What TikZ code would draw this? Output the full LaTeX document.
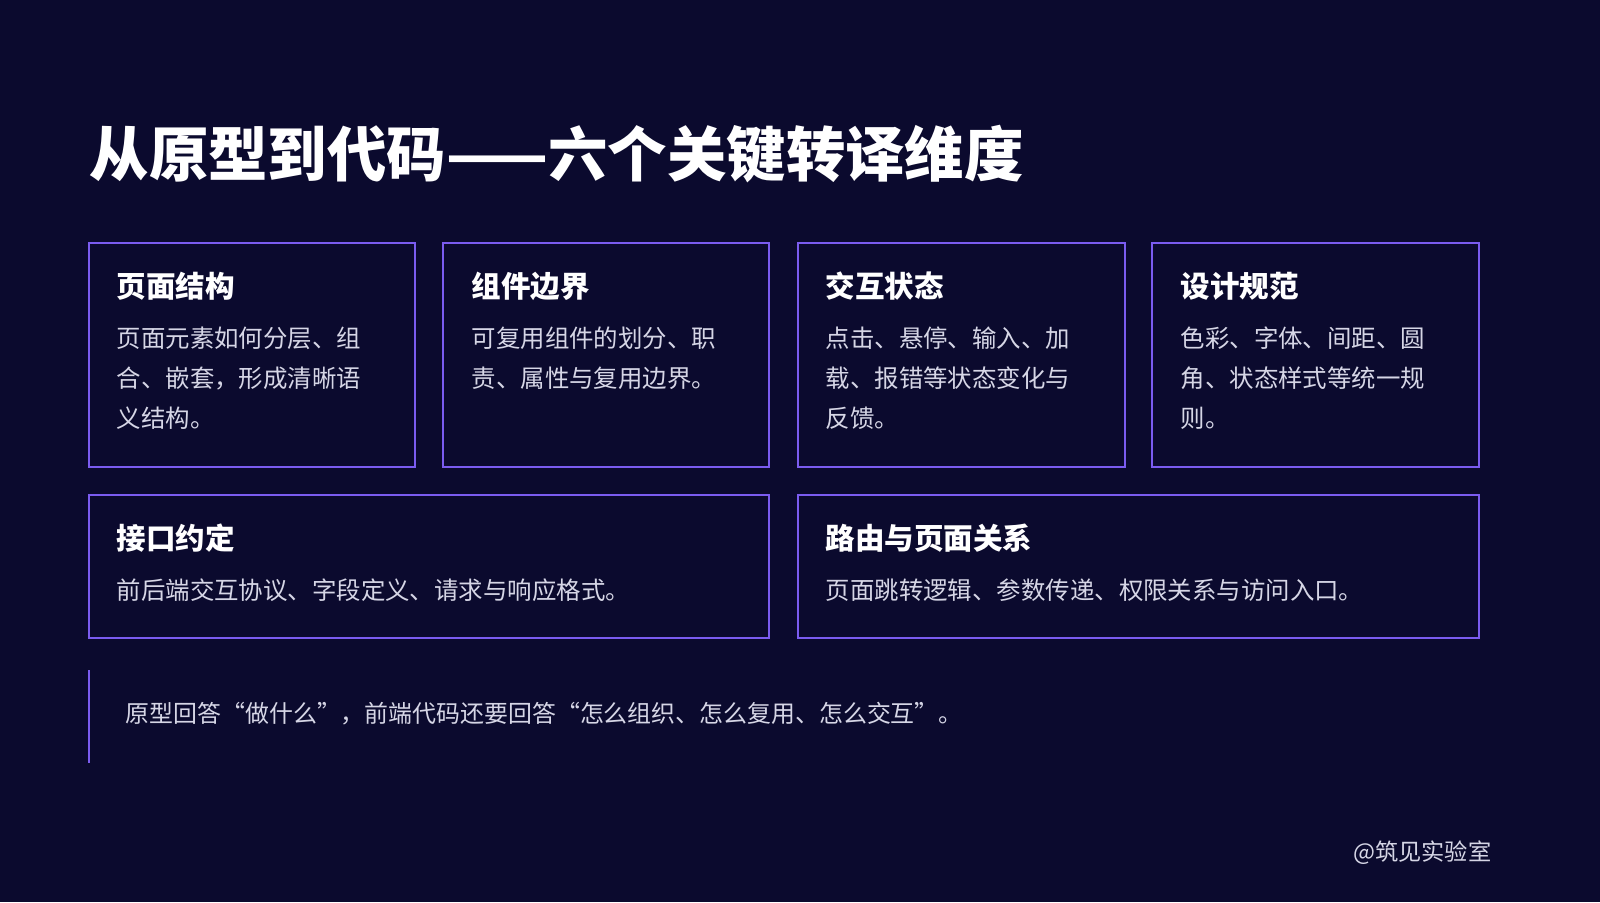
\documentclass[tikz,border=0pt]{standalone}
\usepackage{fontspec}
\setmainfont{Noto Sans CJK SC}
\usetikzlibrary{positioning}
\definecolor{bgnavy}{HTML}{0B0A2E}
\definecolor{edgeviolet}{HTML}{7B5CF0}
\definecolor{bodygrey}{HTML}{D6D6E6}
\begin{document}
\begin{tikzpicture}[x=0.01cm, y=-0.01cm,
    card/.style={draw=edgeviolet, line width=0.75pt},
    cardhead/.style={anchor=base west, text=white, font=\fontsize{8.4}{10}\selectfont\bfseries, inner sep=0pt},
    cardbody/.style={anchor=north west, text=bodygrey, font=\fontsize{6.95}{11.4}\selectfont, align=left, inner sep=0pt}]

    % Background
    \fill[bgnavy] (0,0) rectangle (1600,902);

    % Title
    \node[anchor=base west, text=white, font=\fontsize{16.9}{20}\selectfont\bfseries, inner sep=0pt]
        (title) at (89,176) {从原型到代码——六个关键转译维度};

    % Row 1
    \draw[card] (89,243) rectangle (415,467);
    \draw[card] (443,243) rectangle (769,467);
    \draw[card] (798,243) rectangle (1125,467);
    \draw[card] (1152,243) rectangle (1479,467);
    \node[cardhead] (h1) at (116,297) {页面结构};
    \node[cardhead] (h2) at (471,297) {组件边界};
    \node[cardhead] (h3) at (825,297) {交互状态};
    \node[cardhead] (h4) at (1180,297) {设计规范};
    \node[cardbody] (b1) at (116,326) {页面元素如何分层、组\\合、嵌套，形成清晰语\\义结构。};
    \node[cardbody] (b2) at (471,326) {可复用组件的划分、职\\责、属性与复用边界。};
    \node[cardbody] (b3) at (825,326) {点击、悬停、输入、加\\载、报错等状态变化与\\反馈。};
    \node[cardbody] (b4) at (1180,326) {色彩、字体、间距、圆\\角、状态样式等统一规\\则。};

    % Row 2
    \draw[card] (89,495) rectangle (769,638);
    \draw[card] (798,495) rectangle (1479,638);
    \node[cardhead] (h5) at (116,549) {接口约定};
    \node[cardhead] (h6) at (825,549) {路由与页面关系};
    \node[cardbody] (b5) at (116,578) {前后端交互协议、字段定义、请求与响应格式。};
    \node[cardbody] (b6) at (825,578) {页面跳转逻辑、参数传递、权限关系与访问入口。};

    % Quote
    \draw[edgeviolet, line width=0.75pt] (89,670) -- (89,763);
    \node[anchor=west, text=bodygrey, font=\fontsize{6.8}{10}\selectfont, inner sep=0pt]
        (quote) at (125,714) {原型回答“做什么”，前端代码还要回答“怎么组织、怎么复用、怎么交互”。};

    % Watermark
    \node[anchor=east, text=bodygrey, font=\fontsize{6.6}{8}\selectfont, inner sep=0pt]
        (mark) at (1492,853) {@筑见实验室};
\end{tikzpicture}
\end{document}
